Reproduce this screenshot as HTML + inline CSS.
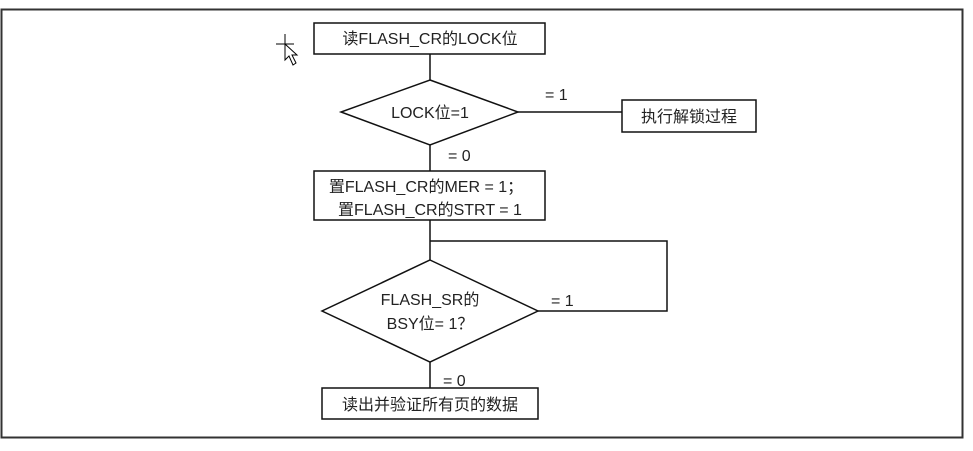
<!DOCTYPE html>
<html><head><meta charset="utf-8"><style>
html,body{margin:0;padding:0;background:#fff;width:973px;height:451px;overflow:hidden}
svg{display:block}
text{font-family:"Liberation Sans","Noto Sans CJK SC",sans-serif;font-size:16px;fill:#222}
</style></head><body>
<svg width="973" height="451" viewBox="0 0 973 451">
<rect x="1.5" y="9.5" width="961" height="428" fill="#fff" stroke="#333" stroke-width="2"/>
<g stroke="#111" stroke-width="1.5" fill="none">
<rect x="314" y="23" width="231" height="31" fill="#fff"/>
<line x1="430" y1="54" x2="430" y2="80"/>
<polygon points="430,80 518,112 430,145 341,112" fill="#fff"/>
<line x1="518" y1="112" x2="622" y2="112"/>
<rect x="622" y="100" width="134" height="32" fill="#fff"/>
<line x1="430" y1="145" x2="430" y2="171"/>
<rect x="314" y="171" width="231" height="49" fill="#fff"/>
<line x1="430" y1="220" x2="430" y2="260"/>
<polyline points="430,241 667,241 667,311 538,311"/>
<polygon points="430,260 538,311 430,362 322,311" fill="#fff"/>
<line x1="430" y1="362" x2="430" y2="388"/>
<rect x="322" y="388" width="216" height="31" fill="#fff"/>
</g>
<g stroke="#000" stroke-width="1" fill="none">
<line x1="285" y1="34" x2="285" y2="52"/><line x1="276" y1="44" x2="294" y2="44"/>
<polygon points="285,44 285,60 289,56 293,65 296,63 292,55 297,55" fill="#fff"/>
</g>
<text x="430" y="44" text-anchor="middle">读FLASH_CR的LOCK位</text>
<text x="430" y="118" text-anchor="middle">LOCK位=1</text>
<text x="545" y="100">= 1</text>
<text x="689" y="122" text-anchor="middle">执行解锁过程</text>
<text x="448" y="161">= 0</text>
<text x="426" y="192" text-anchor="middle">置FLASH_CR的MER = 1；</text>
<text x="430" y="215" text-anchor="middle">置FLASH_CR的STRT = 1</text>
<text x="430" y="305" text-anchor="middle">FLASH_SR的</text>
<text x="430" y="329" text-anchor="middle">BSY位= 1？</text>
<text x="551" y="306">= 1</text>
<text x="443" y="386">= 0</text>
<text x="430" y="410" text-anchor="middle">读出并验证所有页的数据</text>
</svg>
</body></html>
